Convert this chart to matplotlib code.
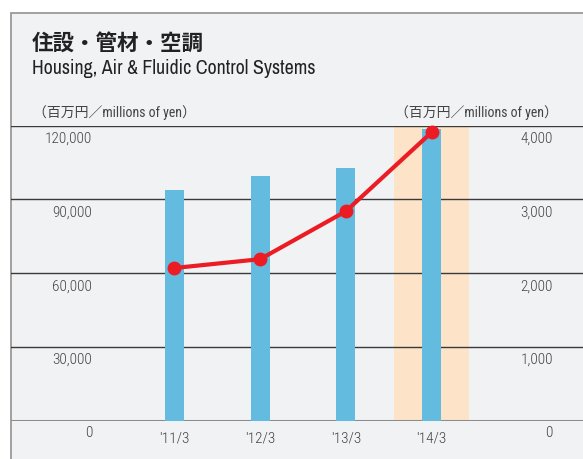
import matplotlib
matplotlib.use("Agg")
import matplotlib.pyplot as plt
from matplotlib.patches import Rectangle
from matplotlib.transforms import blended_transform_factory, offset_copy

# --- data ---
periods = ["'11/3", "'12/3", "'13/3", "'14/3"]
sales = [94000, 99500, 103000, 118500]          # bars, left axis
profit = [2070, 2190, 2840, 3910]               # line, right axis
left_ticks = [30000, 60000, 90000, 120000]
right_ticks = [1000, 2000, 3000, 4000]
highlight = 3                                   # '14/3 is shaded

NARROW = ["Roboto Condensed", "Noto Sans CJK JP", "DejaVu Sans"]
SUB = ["Archivo Narrow", "Roboto Condensed", "DejaVu Sans"]
CJK = ["Noto Sans CJK JP", "DejaVu Sans"]

BG = "#f1f2f4"
BAR = "#63bce0"
BAND = "#fde3c8"
RED = "#ec1c24"
TXT = "#444444"

W, H = 583, 460
fig = plt.figure(figsize=(W / 100, H / 100), dpi=100)
fig.patch.set_facecolor("white")

# panel background with grey border on left/top
fig.patches.append(Rectangle((11 / W, -0.02), 1.0, (H - 14) / H + 0.02,
                             transform=fig.transFigure, facecolor=BG,
                             edgecolor="#9a9a9a", lw=1.3, zorder=-5))

# axes span the gridline area: zero line at y=421.5 px, top line at 126.8 px
y0, y1 = 421.5, 126.8
ax = fig.add_axes([11 / W, (H - y0) / H, (W - 11) / W, (y0 - y1) / H])
ax.set_facecolor("none")
ax2 = ax.twinx()

x = list(range(len(periods)))
ax.set_xlim(-1.908, 4.768)
ax.set_ylim(0, 120000)
ax2.set_ylim(0, 4000)

ax.axvspan(highlight - 0.44, highlight + 0.44, color=BAND, lw=0, zorder=0.5)
for v in left_ticks:
    ax.axhline(v, color="#3a3a3a", lw=1.0, zorder=1)
ax.axhline(0, color="#8c8c8c", lw=2.2, zorder=1)
ax.bar(x, sales, width=0.222, color=BAR, zorder=2)

ax2.plot(x, profit, color=RED, lw=3.0, marker="o", markersize=9,
         solid_capstyle="round", zorder=3, clip_on=False)

for a in (ax, ax2):
    for s in a.spines.values():
        s.set_visible(False)
    a.tick_params(length=0)
    a.set_yticks([])

ax.set_xticks(x)
ax.set_xticklabels(periods, fontsize=11, color=TXT, family=NARROW,
                   fontweight="light")
ax.tick_params(axis="x", pad=7)

# y labels sit just below their gridlines
tl = offset_copy(blended_transform_factory(fig.transFigure, ax.transData),
                 fig=fig, y=-12, units="dots")
tr = offset_copy(blended_transform_factory(fig.transFigure, ax2.transData),
                 fig=fig, y=-12, units="dots")
for v in [0] + left_ticks:
    ax.text(92 / W, v, f"{v:,}", transform=tl, ha="right", va="center",
            fontsize=11, color=TXT, family=NARROW, fontweight="light")
for v in [0] + right_ticks:
    ax2.text(553 / W, v, f"{v:,}", transform=tr, ha="right", va="center",
             fontsize=11, color=TXT, family=NARROW, fontweight="light")

# titles and unit labels
fig.text(32 / W, 1 - 43 / H, "住設・管材・空調", fontsize=15.5, fontweight="bold",
         color="#222222", family=CJK, va="center")
fig.text(32 / W, 1 - 69 / H, "Housing, Air & Fluidic Control Systems",
         fontsize=14.3, color="#222222", family=SUB, va="center")
fig.text(33 / W, 1 - 113 / H, "（百万円／millions of yen）", fontsize=10,
         color=TXT, family=NARROW, va="center")
fig.text(558 / W, 1 - 113 / H, "（百万円／millions of yen）", fontsize=10,
         color=TXT, family=NARROW, va="center", ha="right")

fig.savefig("out.png", dpi=100, facecolor="white")
